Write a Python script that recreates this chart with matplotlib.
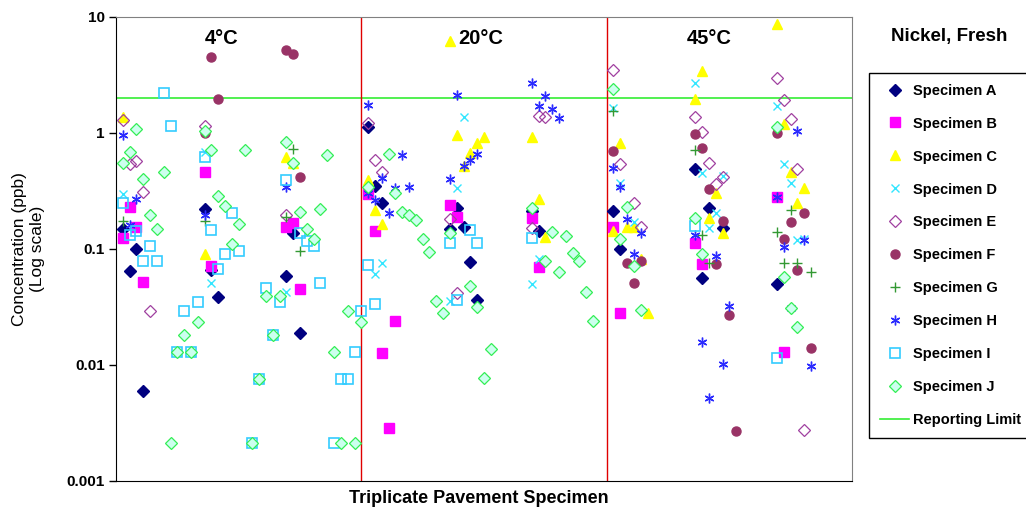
import matplotlib.pyplot as plt

plt.rcParams['font.family'] = ['Liberation Sans', 'DejaVu Sans']

# sample position along the x axis (three panels of 36 slots) and concentration in ppb
a_x = [1, 2, 3, 4, 13, 14, 15, 25, 26, 27, 37, 38, 39, 49, 50, 51, 52, 53, 61, 62,
       73, 74, 85, 86, 87, 89, 97]
a_y = [0.149, 0.0646, 0.1, 0.00597, 0.221, 0.066, 0.0386, 0.0585, 0.137, 0.0189,
       1.13, 0.349, 0.249, 0.149, 0.226, 0.155, 0.0773, 0.0363, 0.213, 0.143,
       0.213, 0.1, 0.49, 0.0562, 0.226, 0.152, 0.0499]

b_x = [1, 2, 3, 4, 13, 14, 25, 26, 27, 37, 38, 39, 40, 41, 49, 50, 61, 62,
       73, 74, 85, 86, 97, 98]
b_y = [0.124, 0.23, 0.155, 0.052, 0.461, 0.0714, 0.155, 0.168, 0.0452,
       0.298, 0.143, 0.0127, 0.00286, 0.0239, 0.24, 0.189, 0.185, 0.07,
       0.155, 0.028, 0.113, 0.0743, 0.281, 0.0129]

c_x = [1, 13, 25, 26, 37, 38, 39, 49, 50, 51, 52, 53, 54, 61, 62, 63,
       73, 74, 75, 76, 77, 78, 85, 86, 87, 88, 89, 97, 98, 99, 100, 101]
c_y = [1.37, 0.0906, 0.621, 0.551, 0.394, 0.217, 0.164, 6.21, 0.961, 0.519, 0.672,
       0.82, 0.924, 0.924, 0.27, 0.127, 0.143, 0.82, 0.155, 0.155, 0.082, 0.028,
       1.96, 3.42, 0.185, 0.304, 0.137, 8.7, 1.2, 0.461, 0.249, 0.336]

d_x = [1, 13, 14, 25, 38, 39, 49, 50, 51, 61, 62, 73, 74, 76, 85, 86, 87, 88, 89,
       97, 98, 99, 100, 101]
d_y = [0.298, 0.686, 0.0509, 0.0426, 0.0609, 0.0757, 0.0356, 0.336, 1.37, 0.0499,
       0.082, 1.64, 0.371, 0.171, 2.7, 0.452, 0.152, 0.204, 0.426, 1.71, 0.541,
       0.371, 0.12, 0.122]

e_x = [1, 2, 3, 4, 5, 13, 25, 37, 38, 39, 49, 50, 61, 62, 63, 73, 74, 76, 77,
       85, 86, 87, 88, 89, 97, 98, 99, 100, 101]
e_y = [1.29, 0.541, 0.574, 0.31, 0.0292, 1.15, 0.196, 1.22, 0.585, 0.461, 0.181,
       0.0418, 0.152, 1.4, 1.37, 3.49, 0.541, 0.249, 0.155, 1.37, 1.02, 0.551,
       0.363, 0.418, 2.98, 1.93, 1.32, 0.49, 0.00275]

f_x = [13, 14, 15, 25, 26, 27, 73, 75, 76, 77, 85, 86, 87, 88, 89, 90, 91,
       97, 98, 99, 100, 101, 102]
f_y = [1.0, 4.52, 1.96, 5.2, 4.8, 0.418, 0.7, 0.0757, 0.0509, 0.0788, 0.98, 0.743,
       0.329, 0.0743, 0.174, 0.027, 0.0027, 1.0, 0.122, 0.171, 0.066, 0.204, 0.014]

g_x = [1, 13, 25, 26, 27, 73, 85, 86, 87, 97, 98, 99, 100, 102]
g_y = [0.174, 0.174, 0.189, 0.728, 0.096, 1.55, 0.714, 0.132, 0.0757, 0.14,
       0.0757, 0.217, 0.0757, 0.0633]

h_x = [1, 2, 3, 13, 25, 37, 37, 38, 39, 40, 41, 42, 43, 49, 50, 51, 52, 53,
       61, 62, 63, 64, 65, 73, 74, 75, 76, 77, 85, 86, 87, 88, 89, 90,
       97, 98, 99, 100, 101, 102]
h_y = [0.961, 0.161, 0.27, 0.196, 0.342, 1.74, 0.304, 0.264, 0.41, 0.204, 0.336,
       0.646, 0.342, 0.401, 2.13, 0.519, 0.585, 0.659, 2.7, 1.71, 2.08, 1.61, 1.35,
       0.5, 0.342, 0.181, 0.0906, 0.137, 0.132, 0.0158, 0.0052, 0.0871, 0.0102,
       0.0323, 0.281, 0.104, 0.0311, 1.04, 0.12, 0.0098]

i_x = [1, 2, 3, 4, 5, 6, 7, 8, 9, 10, 11, 12, 13, 14, 15, 16, 17, 18, 20, 21,
       22, 23, 24, 25, 27, 28, 29, 30, 32, 33, 34, 35, 36,
       37, 38, 49, 50, 52, 53, 61, 85, 97]
i_y = [0.249, 0.132, 0.143, 0.0788, 0.106, 0.0788, 2.21, 1.15, 0.0129, 0.0292,
       0.0129, 0.035, 0.621, 0.146, 0.0671, 0.0906, 0.204, 0.096, 0.00213, 0.00757,
       0.0461, 0.0182, 0.035, 0.394, 0.137, 0.117, 0.106, 0.0509, 0.00213, 0.00757,
       0.00757, 0.0129, 0.0292, 0.0728, 0.0336, 0.113, 0.0363, 0.146, 0.113, 0.124,
       0.158, 0.0114]

j_x = [1, 2, 3, 4, 5, 6, 7, 8, 9, 10, 11, 12, 13, 14, 15, 16, 17, 18, 19, 20,
       21, 22, 23, 24, 25, 26, 27, 28, 29, 30, 31, 32, 33, 34, 35, 36,
       37, 40, 41, 42, 43, 44, 45, 46, 47, 48, 49, 52, 53, 54, 55,
       61, 63, 64, 65, 66, 67, 68, 69, 70,
       73, 74, 75, 76, 77, 85, 86, 97, 98, 99, 100]
j_y = [0.551, 0.686, 1.08, 0.401, 0.196, 0.15, 0.461, 0.00213, 0.0129, 0.0182,
       0.0129, 0.0236, 1.04, 0.714, 0.287, 0.235, 0.11, 0.164, 0.714, 0.00213,
       0.00757, 0.039, 0.0182, 0.039, 0.836, 0.551, 0.209, 0.149, 0.122, 0.221,
       0.646, 0.0129, 0.00213, 0.0292, 0.00213, 0.0236,
       0.342, 0.659, 0.304, 0.209, 0.196, 0.178, 0.122, 0.0943, 0.0356, 0.028,
       0.137, 0.0479, 0.0317, 0.00773, 0.0138,
       0.226, 0.0788, 0.141, 0.0633, 0.129, 0.0925, 0.0788, 0.0426, 0.0239,
       2.39, 0.122, 0.23, 0.0714, 0.0299, 0.185, 0.0906, 1.13, 0.0574, 0.0311, 0.0213]

labels = ['Specimen A', 'Specimen B', 'Specimen C', 'Specimen D', 'Specimen E',
          'Specimen F', 'Specimen G', 'Specimen H', 'Specimen I', 'Specimen J']
xs = [a_x, b_x, c_x, d_x, e_x, f_x, g_x, h_x, i_x, j_x]
ys = [a_y, b_y, c_y, d_y, e_y, f_y, g_y, h_y, i_y, j_y]

reporting_limit = 2.0
panel_edges = [36, 72]
panel_names = ['4°C', '20°C', '45°C']
panel_centers = [15.5, 53.5, 87]

styles = [
    dict(marker='D', color='#000080', ms=6),
    dict(marker='s', color='#ff00ff', ms=6.5),
    dict(marker='^', color='#ffff00', ms=7.5),
    dict(marker='x', color='#33e6ff', ms=6, mew=1),
    dict(marker='D', color='#a040a0', mfc='none', ms=6, mew=0.9),
    dict(marker='o', color='#993366', ms=6.5),
    dict(marker='+', color='#339933', ms=7, mew=1),
    dict(marker=(6, 2, 0), color='#2b2bff', ms=7, mew=1),
    dict(marker='s', color='#33ccff', mfc='none', ms=7, mew=1.2),
    dict(marker='D', color='#33ee55', mfc='#ccffee', ms=6, mew=0.9),
]

fig = plt.figure(figsize=(10.26, 5.12), dpi=100)
ax = fig.add_axes([116 / 1026, 31 / 512, 736 / 1026, 464 / 512])

rl = ax.axhline(reporting_limit, color='#33ee33', lw=1.2, zorder=1, label='Reporting Limit')
for e in panel_edges:
    ax.axvline(e, color='#e00000', lw=1, zorder=1)

handles = []
for x, y, lab, st in zip(xs, ys, labels, styles):
    h, = ax.plot(x, y, ls='none', label=lab, zorder=3, **st)
    handles.append(h)
handles.append(rl)

ax.set_yscale('log')
ax.set_ylim(0.001, 10)
ax.set_xlim(0, 108)
ax.set_yticks([0.001, 0.01, 0.1, 1, 10])
ax.set_yticklabels(['0.001', '0.01', '0.1', '1', '10'], fontsize=11, fontweight='bold')
ax.yaxis.set_minor_locator(plt.NullLocator())
ax.set_xticks([])
ax.tick_params(axis='y', direction='out', length=5, width=1, pad=3)

for side in ['top', 'right']:
    ax.spines[side].set_color('#808080')
for side in ['left', 'bottom']:
    ax.spines[side].set_color('black')

for name, cx in zip(panel_names, panel_centers):
    ax.text(cx, 0.953, name, transform=ax.get_xaxis_transform(), ha='center',
            va='center', fontsize=14.5, fontweight='bold')

ax.set_ylabel('Concentration (ppb)\n(Log scale)', fontsize=12.5)
ax.yaxis.set_label_coords(-0.097, 0.5)
ax.set_xlabel('Triplicate Pavement Specimen', fontsize=13, fontweight='bold')
ax.xaxis.set_label_coords(0.4925, -0.019)

fig.text(949 / 1026, 1 - 36.5 / 512, 'Nickel, Fresh', ha='center', va='center',
         fontsize=13.5, fontweight='bold')

leg = ax.legend(handles=handles, loc='upper left', bbox_to_anchor=(869 / 1026, 1 - 72.7 / 512),
                bbox_transform=fig.transFigure, borderaxespad=0, fancybox=False,
                edgecolor='black', framealpha=1, prop=dict(size=10.5, weight='bold'),
                labelspacing=1.3, handlelength=2.0, handletextpad=0.25, borderpad=0.75)
leg.get_frame().set_linewidth(1)

fig.savefig('out.png', dpi=100)
